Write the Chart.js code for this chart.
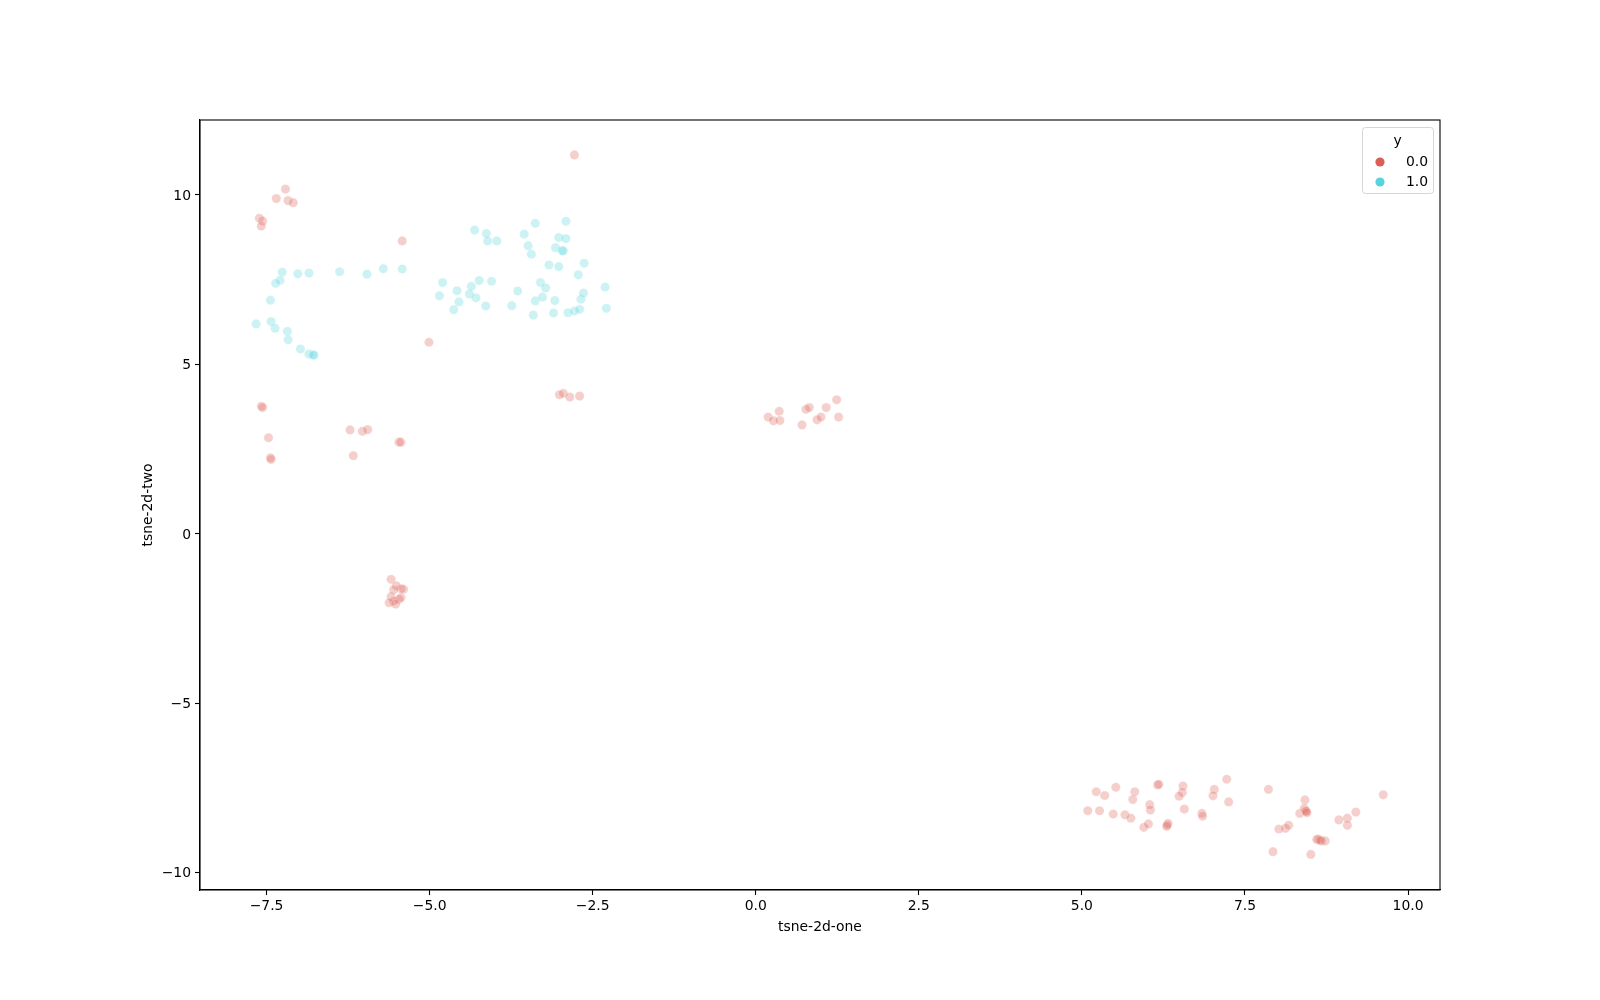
<!DOCTYPE html>
<html>
<head>
<meta charset="utf-8">
<script src="https://cdn.jsdelivr.net/npm/chart.js@4.4.0/dist/chart.umd.min.js"></script>
<style>
  body { margin: 0; background: #fff; }
  #wrap { width: 1600px; height: 1000px; }
</style>
</head>
<body>
<div id="wrap"><canvas id="myChart" width="1600" height="1000"></canvas></div>
<script>
// class labels (hue "y")
const categories = ['0.0', '1.0'];

// y = 0.0
const redX = [
    -7.21, -7.35, -7.17, -7.09, -7.61, -7.56, -7.58, -5.42, -5.01,
    -2.78,
    -3.01, -2.95, -2.85, -2.70,
    -7.58, -7.56, -7.47, -7.44, -7.43, -6.22, -6.03, -5.95, -6.17, -5.47, -5.44,
    -5.59, -5.51, -5.44, -5.40, -5.55, -5.59, -5.47, -5.55, -5.62, -5.52, -5.44,
    0.19, 0.27, 0.36, 0.37, 0.71, 0.77, 0.82, 0.94, 1.00, 1.08, 1.24, 1.27,
    5.09, 5.27, 5.22, 5.35, 5.52, 5.48, 5.66, 5.75, 5.81, 5.78, 6.04, 6.05, 5.95, 6.02,
    6.16, 6.18, 6.32, 6.31, 6.30, 6.55, 6.54, 6.49, 6.57, 6.84, 6.85, 7.03, 7.01, 7.22, 7.25,
    7.86, 7.93, 8.02, 8.12, 8.17, 8.34, 8.42, 8.41, 8.43, 8.44, 8.45, 8.51, 8.60, 8.62,
    8.65, 8.67, 8.73, 8.94, 9.07, 9.07, 9.20, 9.62
];
const redY = [
    10.17, 9.89, 9.83, 9.77, 9.31, 9.23, 9.08, 8.64, 5.65,
    11.18,
    4.10, 4.14, 4.03, 4.06,
    3.76, 3.72, 2.83, 2.24, 2.19, 3.06, 3.02, 3.07, 2.30, 2.70, 2.70,
    -1.35, -1.54, -1.63, -1.64, -1.66, -1.86, -1.94, -1.99, -2.04, -2.08, -1.89,
    3.44, 3.33, 3.61, 3.34, 3.21, 3.67, 3.72, 3.36, 3.44, 3.72, 3.95, 3.44,
    -8.18, -8.18, -7.62, -7.73, -7.49, -8.28, -8.30, -8.40, -7.62, -7.85, -8.00, -8.16, -8.67, -8.57,
    -7.42, -7.40, -8.55, -8.60, -8.64, -7.45, -7.64, -7.75, -8.13, -8.26, -8.34, -7.55, -7.74, -7.25, -7.92,
    -7.55, -9.39, -8.72, -8.70, -8.61, -8.26, -7.86, -8.11, -8.18, -8.20, -8.24, -9.47, -9.03, -9.02,
    -9.05, -9.07, -9.07, -8.45, -8.40, -8.61, -8.22, -7.71
];

// y = 1.0
const cyanX = [
    -7.26, -7.02, -6.85, -6.38, -5.96, -5.71, -5.42, -7.29, -7.36, -7.44,
    -7.66, -7.43, -7.37, -7.18, -7.17, -6.98, -6.85, -6.79, -6.77,
    -4.31, -4.13, -4.11, -3.97, -3.55, -3.38, -2.91, -3.02, -2.91, -3.49,
    -3.07, -3.44, -2.97, -2.95, -3.17, -3.02, -2.63, -2.72, -2.31, -4.80,
    -4.85, -4.58, -4.36, -4.24, -4.05, -4.39, -4.29, -4.55, -4.63, -4.14,
    -3.65, -3.74, -3.30, -3.22, -3.38, -3.27, -3.08, -3.41, -3.10, -2.88,
    -2.78, -2.70, -2.68, -2.64, -2.29
];
const cyanY = [
    7.72, 7.67, 7.69, 7.73, 7.66, 7.82, 7.81, 7.48, 7.39, 6.89,
    6.19, 6.26, 6.06, 5.97, 5.72, 5.45, 5.30, 5.27, 5.27,
    8.96, 8.86, 8.64, 8.64, 8.84, 9.16, 9.22, 8.74, 8.71, 8.50,
    8.44, 8.25, 8.36, 8.34, 7.93, 7.88, 7.98, 7.64, 7.28, 7.41,
    7.02, 7.17, 7.30, 7.47, 7.45, 7.07, 6.96, 6.84, 6.61, 6.72,
    7.16, 6.73, 7.41, 7.25, 6.87, 6.98, 6.88, 6.45, 6.51, 6.52,
    6.57, 6.62, 6.92, 7.10, 6.65
];

const xTicks = [-7.5, -5.0, -2.5, 0.0, 2.5, 5.0, 7.5, 10.0];
const yTicks = [-10, -5, 0, 5, 10];

const RED = '219, 95, 87';
const CYAN = '87, 211, 219';
const FONT = { family: 'DejaVu Sans', size: 13.9 };

function toPoints(xs, ys) {
    return xs.map((x, i) => ({ x: x, y: ys[i] }));
}
function minus(s) {
    return s.replace('-', '\u2212');
}

// black box round the plot, like matplotlib spines
const framePlugin = {
    id: 'frame',
    afterDraw(chart) {
        const a = chart.chartArea;
        const c = chart.ctx;
        c.save();
        c.strokeStyle = '#000';
        c.lineWidth = 1.1;
        c.strokeRect(a.left, a.top, a.right - a.left, a.bottom - a.top);
        c.restore();
    }
};

// legend box in the upper right corner
const legendBox = {
    id: 'legendBox',
    afterDraw(chart) {
        const c = chart.ctx;
        const left = 1362, top = 127, w = 71, h = 66;
        c.save();
        c.beginPath();
        c.roundRect(left + 0.5, top + 0.5, w, h, 3);
        c.fillStyle = 'rgba(255,255,255,0.8)';
        c.fill();
        c.strokeStyle = 'rgba(204,204,204,0.8)';
        c.lineWidth = 1;
        c.stroke();
        c.font = FONT.size + 'px "DejaVu Sans"';
        c.fillStyle = '#000';
        c.textBaseline = 'middle';
        c.textAlign = 'center';
        c.fillText('y', left + w / 2, top + 14);
        chart.data.datasets.forEach((ds, i) => {
            const cy = top + 35 + i * 20;
            c.beginPath();
            c.arc(left + 18, cy, 4.6, 0, Math.PI * 2);
            c.fillStyle = ds.legendColor;
            c.fill();
            c.fillStyle = '#000';
            c.textAlign = 'left';
            c.fillText(ds.label, left + 44, cy);
        });
        c.restore();
    }
};

const ctx = document.getElementById('myChart').getContext('2d');

const data = {
    datasets: [{
        label: categories[0],
        data: toPoints(redX, redY),
        legendColor: 'rgb(' + RED + ')',
        backgroundColor: 'rgba(' + RED + ', 0.3)',
        borderColor: 'rgba(255, 255, 255, 0.3)',
        borderWidth: 0.7,
        pointRadius: 4.6
    }, {
        label: categories[1],
        data: toPoints(cyanX, cyanY),
        legendColor: 'rgb(' + CYAN + ')',
        backgroundColor: 'rgba(' + CYAN + ', 0.3)',
        borderColor: 'rgba(255, 255, 255, 0.3)',
        borderWidth: 0.7,
        pointRadius: 4.6
    }]
};

const config = {
    type: 'scatter',
    data: data,
    options: {
        responsive: false,
        animation: false,
        devicePixelRatio: 1,
        layout: {
            padding: { left: 130, right: 160, top: 120, bottom: 50 }
        },
        plugins: {
            legend: { display: false },
            tooltip: { enabled: false }
        },
        scales: {
            x: {
                type: 'linear',
                min: -8.52,
                max: 10.49,
                afterBuildTicks: s => { s.ticks = xTicks.map(v => ({ value: v })); },
                afterFit: s => { s.height = 60; },
                grid: { drawOnChartArea: false, drawTicks: true, tickLength: 5, tickWidth: 1.1, tickColor: '#000' },
                border: { display: true, color: '#000', width: 1.1 },
                ticks: {
                    color: '#000',
                    font: FONT,
                    padding: 3,
                    autoSkip: false,
                    maxRotation: 0,
                    callback: v => minus(v.toFixed(1))
                },
                title: {
                    display: true,
                    text: 'tsne-2d-one',
                    color: '#000',
                    font: FONT,
                    padding: { top: 0, bottom: 14 }
                }
            },
            y: {
                type: 'linear',
                min: -10.52,
                max: 12.21,
                afterBuildTicks: s => { s.ticks = yTicks.map(v => ({ value: v })); },
                afterFit: s => { s.width = 70; },
                grid: { drawOnChartArea: false, drawTicks: true, tickLength: 5, tickWidth: 1.1, tickColor: '#000' },
                border: { display: true, color: '#000', width: 1.1 },
                ticks: {
                    color: '#000',
                    font: FONT,
                    padding: 4,
                    labelOffset: 1.5,
                    autoSkip: false,
                    callback: v => minus(String(v))
                },
                title: {
                    display: true,
                    text: 'tsne-2d-two',
                    color: '#000',
                    font: FONT,
                    padding: { top: 10, bottom: 0 }
                }
            }
        }
    },
    plugins: [framePlugin, legendBox]
};

const myChart = new Chart(ctx, config);
</script>
</body>
</html>
